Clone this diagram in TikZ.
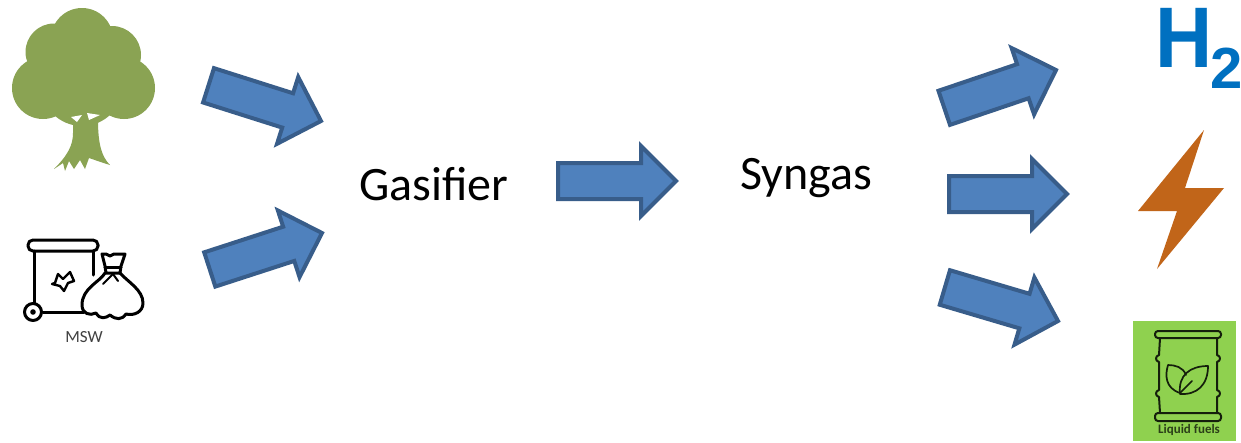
\documentclass[tikz,border=0pt]{standalone}
\usepackage{fontspec}
\setmainfont{Carlito}
\newfontfamily\hfont{Liberation Sans}
\usetikzlibrary{shapes.arrows}
\definecolor{arrowfill}{HTML}{4F81BD}
\definecolor{arrowline}{HTML}{385D8A}
\definecolor{treegreen}{HTML}{8AA353}
\definecolor{hblue}{HTML}{0070C0}
\definecolor{boltorange}{HTML}{C16519}
\definecolor{fuelgreen}{HTML}{8FD14F}
\tikzset{
  bigarrow/.style={single arrow,draw=arrowline,fill=arrowfill,line width=4pt,line join=miter,
    minimum height=118pt,single arrow head extend=17pt,inner xsep=0pt,inner ysep=16pt,outer sep=0pt,anchor=tip},
  bigtext/.style={font=\fontsize{48}{56}\selectfont,inner sep=0pt,text=black},
  icon/.style={line width=3pt,black,line cap=round,line join=round},
  barrel/.style={line width=2pt,black!85!fuelgreen,line cap=round,line join=round}
}
\begin{document}
\begin{tikzpicture}[x=1pt,y=-1pt]
\useasboundingbox (0,0) rectangle (1241,442);
\fill[white] (0,0) rectangle (1241,442);
% tree
\begin{scope}[treegreen]
\fill (82,39) circle (31);
\fill (54,52) circle (28.5);
\fill (43,88) circle (31);
\fill (112,55) circle (29);
\fill (124,88) circle (31);
\fill (82,85) circle (41);
\fill (73,120) -- (73,133) .. controls (73,145) and (68,155) .. (54,169)
  -- (63,163) -- (65,171) -- (69,161) -- (74,169) -- (80,160) -- (85,169) -- (89,158)
  .. controls (95,160) and (100,162) .. (110,165)
  .. controls (102,157) and (98,145) .. (98,120) -- cycle;
\end{scope}
\fill[white] (71,117) -- (82,115) -- (77,122) -- cycle;
\fill[white] (87,113) -- (100,115) -- (89,120) -- cycle;
% MSW icon
\draw[icon,rounded corners=5pt] (28,240) rectangle (98,251);
\draw[icon] (34,251) -- (34,303);
\draw[icon] (93,251) -- (93,275);
\draw[icon] (43,312) -- (84,312);
\draw[icon] (33,312) circle (8.5);
\fill (33,312) circle (2.8);
\draw[icon,line width=2.4pt] (55,283) -- (58,274) -- (63,279) -- (70,272) -- (74,281) -- (68,283) -- (64,291) -- (60,286) -- (52,284) -- cycle;
\draw[icon] (102,254) -- (106,254) -- (110,256) -- (114,254) -- (120,254) -- (125,254) -- (121,266) -- (120,273) -- (106,273) -- (105,266) -- cycle;
\draw[icon] (105,267) -- (121,267);
\draw[icon] (105,273) .. controls (100,282) and (82,288) .. (82,305)
  .. controls (82,314) and (90,316) .. (96,313)
  .. controls (100,320) and (106,318) .. (110,315)
  .. controls (116,320) and (122,320) .. (126,314)
  .. controls (134,316) and (143,312) .. (143,303)
  .. controls (143,290) and (128,282) .. (120,273);
\draw[icon,line width=2pt] (103,284) -- (113,274) -- (118,281);
\node[inner sep=0pt,font=\fontsize{17}{19}\selectfont,text=black!75] (msw) at (84,337) {MSW};
% labels
\node[bigtext] (gasifier) at (434,184) {Gasifier};
\node[bigtext] (syngas) at (806,178) {Syngas};
% arrows
\node[bigarrow,rotate=-17.6] (a1) at (321,121) {};
\node[bigarrow,rotate=18] (a2) at (322,233) {};
\node[bigarrow] (a3) at (676,181) {};
\node[bigarrow,rotate=18.7] (a4) at (1056,70) {};
\node[bigarrow] (a5) at (1067,194) {};
\node[bigarrow,rotate=-16.5] (a6) at (1058,321) {};
% H2
\node[inner sep=0pt,anchor=base west,text=hblue,font=\hfont\bfseries\fontsize{86}{86}\selectfont,xscale=.92] (h) at (1155,67) {H};
\node[inner sep=0pt,anchor=base west,text=hblue,font=\hfont\bfseries\fontsize{58}{58}\selectfont] (two) at (1210,88) {2};
% bolt
\fill[boltorange] (1204,130) -- (1138,211) -- (1177,211) -- (1157,269) -- (1224,188) -- (1185,188) -- cycle;
% liquid fuels
\fill[fuelgreen] (1133,321) rectangle (1236,441);
\draw[barrel,rounded corners=3pt] (1155,331) rectangle (1221,338);
\draw[barrel,rounded corners=3pt] (1155,413) rectangle (1221,421);
\draw[barrel] (1160,338) -- (1159,355) .. controls (1155,356) and (1155,361) .. (1159,362) -- (1159,390)
  .. controls (1155,391) and (1155,396) .. (1159,397) -- (1160,413);
\draw[barrel] (1217,338) -- (1217,355) .. controls (1221,356) and (1221,361) .. (1217,362) -- (1217,390)
  .. controls (1221,391) and (1221,396) .. (1217,397) -- (1217,413);
\draw[barrel,line width=1.7pt] (1180,393) .. controls (1165,388) and (1165,375) .. (1168,365)
  .. controls (1175,365) and (1183,367) .. (1186,375);
\draw[barrel,line width=1.7pt] (1180,394) .. controls (1178,375) and (1190,366) .. (1208,366)
  .. controls (1208,385) and (1197,395) .. (1180,394) -- cycle;
\draw[barrel,line width=1.7pt] (1180,393) -- (1192,381);
\node[inner sep=0pt,text=black!70!fuelgreen,font=\bfseries\fontsize{13}{15}\selectfont] (fuels) at (1189,430) {Liquid fuels};
\end{tikzpicture}
\end{document}
